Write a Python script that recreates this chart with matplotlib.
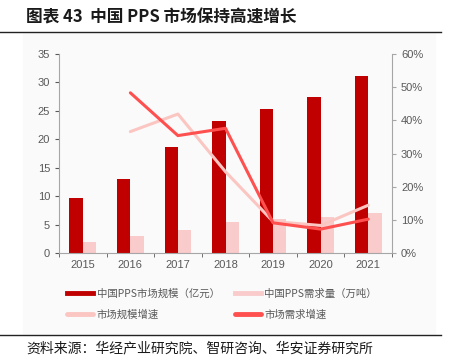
import numpy as np
import matplotlib.pyplot as plt
from matplotlib.lines import Line2D

plt.rcParams['font.family'] = ['Liberation Sans', 'Noto Sans CJK SC', 'DejaVu Sans']

# datos
years = ['2015', '2016', '2017', '2018', '2019', '2020', '2021']
market_size = [9.6, 13.1, 18.6, 23.2, 25.4, 27.4, 31.2]      # 亿元
demand = [2.0, 3.0, 4.0, 5.5, 5.9, 6.3, 7.0]                 # 万吨
size_growth = [36.6, 41.9, 24.5, 9.5, 8.3, 14.4]             # %, 2016-2021
demand_growth = [48.3, 35.4, 37.6, 9.1, 7.2, 10.2]           # %, 2016-2021

c_dark = '#C00000'
c_bar2 = '#F9CBCB'
c_line1 = '#FBC6C2'
c_line2 = '#FF5050'
c_axis = '#A6A6A6'
c_text = '#595959'

fig = plt.figure(figsize=(4.49, 3.57), dpi=100)

# fondo del bloque
bg = plt.Rectangle((23/449, 1-335/357), (435-23)/449, (335-33)/357,
                   transform=fig.transFigure, color='#FAFAFA', zorder=-5)
fig.patches.append(bg)
fig.add_artist(Line2D([0, 441/449], [1-32/357]*2, color='#222222', lw=1.0))
fig.add_artist(Line2D([0, 441/449], [1-335/357]*2, color='#222222', lw=1.0))

fig.text(26/449, 1-18/357, '图表 43  中国 PPS 市场保持高速增长', fontsize=12,
         fontweight='bold', color='#1a1a1a', va='center',
         family=['Noto Sans CJK SC', 'DejaVu Sans'])
fig.text(26/449, 1-348/357, '资料来源：华经产业研究院、智研咨询、华安证券研究所', fontsize=10,
         color='#1a1a1a', va='center', family=['Noto Sans CJK SC', 'DejaVu Sans'])

ax = fig.add_axes([59/449, 1-253/357, (392-59)/449, (253-54)/357])
ax.patch.set_alpha(0)
x = np.arange(len(years))
w = 0.28
ax.bar(x - w/2, market_size, w, color=c_dark, zorder=2)
ax.bar(x + w/2, demand, w, color=c_bar2, zorder=2)
ax.set_ylim(0, 35)
ax.set_yticks(np.arange(0, 36, 5))
ax.set_xlim(-0.5, 6.5)
ax.set_xticks(x)
ax.set_xticklabels(years)
ax.set_xticks(np.arange(-0.5, 7, 1), minor=True)
ax.tick_params(axis='x', which='major', length=0, pad=5)
ax.tick_params(axis='x', which='minor', length=3, color=c_axis)
ax.tick_params(axis='y', length=3, color=c_axis)
ax.tick_params(colors=c_text, labelsize=8, which='both')
for s in ['top', 'right']:
    ax.spines[s].set_visible(False)
ax.spines['left'].set_color(c_axis)
ax.spines['bottom'].set_color(c_axis)

ax2 = ax.twinx()
ax2.plot(x[1:], size_growth, color=c_line1, lw=2.2, zorder=3, solid_capstyle='round')
ax2.plot(x[1:], demand_growth, color=c_line2, lw=2.2, zorder=4, solid_capstyle='round')
ax2.set_ylim(0, 60)
ax2.set_yticks(np.arange(0, 61, 10))
ax2.set_yticklabels([f'{v}%' for v in range(0, 61, 10)])
ax2.tick_params(axis='y', length=3, color=c_axis, colors=c_text, labelsize=8)
for s in ['top', 'left', 'bottom']:
    ax2.spines[s].set_visible(False)
ax2.spines['right'].set_color(c_axis)

# leyenda (orden por columnas)
handles = [Line2D([], [], color=c_dark, lw=3.5),
           Line2D([], [], color=c_line1, lw=3.5, solid_capstyle='round'),
           Line2D([], [], color=c_bar2, lw=3.5),
           Line2D([], [], color=c_line2, lw=3.5, solid_capstyle='round')]
labels = ['中国PPS市场规模（亿元）', '市场规模增速', '中国PPS需求量（万吨）', '市场需求增速']
leg = fig.legend(handles, labels, ncol=2, loc='upper left',
                 bbox_to_anchor=(58/449, 1-279/357), frameon=False,
                 handlelength=2.5, handletextpad=0.3, columnspacing=1.5,
                 labelspacing=1.0, prop={'family': ['Noto Sans CJK SC', 'DejaVu Sans'], 'size': 7.5})
for t in leg.get_texts():
    t.set_color(c_text)

fig.savefig('out.png', dpi=100)
